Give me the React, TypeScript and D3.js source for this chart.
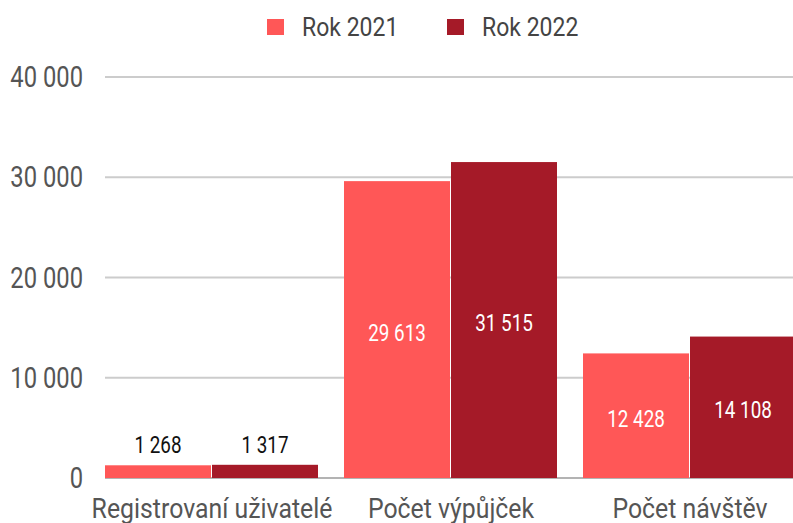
import React from "react";
import * as d3 from "d3";

const categories = ["Registrovaní uživatelé", "Počet výpůjček", "Počet návštěv"];
const seriesNames = ["Rok 2021", "Rok 2022"];
const values2021 = [1268, 29613, 12428];
const values2022 = [1317, 31515, 14108];
const yTicks = [0, 10000, 20000, 30000, 40000];
const colors = ["#FF5757", "#A51A28"];

const W = 793;
const H = 523;
const FONT = "Roboto, sans-serif";

const fmt = (v: number) => d3.format(",")(v).replace(/,/g, " ");

function T({ x, y, anchor = "start", size, fill, sx = 0.82, children }: any) {
  return (
    <text
      transform={`translate(${x},${y}) scale(${sx},1)`}
      textAnchor={anchor}
      fontFamily={FONT}
      fontSize={size}
      fill={fill}
    >
      {children}
    </text>
  );
}

export default function App() {
  const left = 105;
  const x0 = d3.scaleBand<string>().domain(categories).range([left, 797]).paddingInner(0.1046).paddingOuter(0);
  const x1 = d3.scaleBand<string>().domain(seriesNames).range([0, x0.bandwidth()]);
  const y = d3.scaleLinear().domain([0, 40000]).range([478, 77]);
  const series = [values2021, values2022];

  return (
    <svg width={W} height={H} style={{ position: "absolute", left: 0, top: 0, background: "#fff" }}>
      {yTicks.map((t) => (
        <g key={t}>
          {t !== 0 && <line x1={left} x2={W} y1={y(t)} y2={y(t)} stroke="#cccccc" strokeWidth={2} />}
          <T x={83} y={y(t) + 10} anchor="end" size={29} fill="#555555">
            {fmt(t)}
          </T>
        </g>
      ))}
      <line x1={left} x2={W} y1={y(0)} y2={y(0)} stroke="#9a9a9a" strokeWidth={1.5} />
      {categories.map((c, ci) => (
        <g key={c}>
          {seriesNames.map((s, si) => {
            const v = series[si][ci];
            const bx = (x0(c) as number) + (x1(s) as number);
            const bw = x1.bandwidth() - 1;
            const top = y(v);
            const big = y(0) - top > 60;
            return (
              <g key={s}>
                <rect x={bx} y={top} width={bw} height={y(0) - top} fill={colors[si]} />
                <T
                  x={bx + bw / 2}
                  y={big ? (top + y(0)) / 2 + 11 : top - 12}
                  anchor="middle"
                  size={23}
                  fill={big ? "#ffffff" : "#111111"}
                >
                  {fmt(v)}
                </T>
              </g>
            );
          })}
          <T x={(x0(c) as number) + x0.bandwidth() / 2} y={518} anchor="middle" size={27} sx={0.92} fill="#555555">
            {c}
          </T>
        </g>
      ))}
      {seriesNames.map((s, si) => {
        const lx = [267, 447][si];
        return (
          <g key={s}>
            <rect x={lx} y={19} width={17} height={16} fill={colors[si]} />
            <T x={lx + 35} y={36} size={25} sx={0.92} fill="#444444">
              {s}
            </T>
          </g>
        );
      })}
    </svg>
  );
}
